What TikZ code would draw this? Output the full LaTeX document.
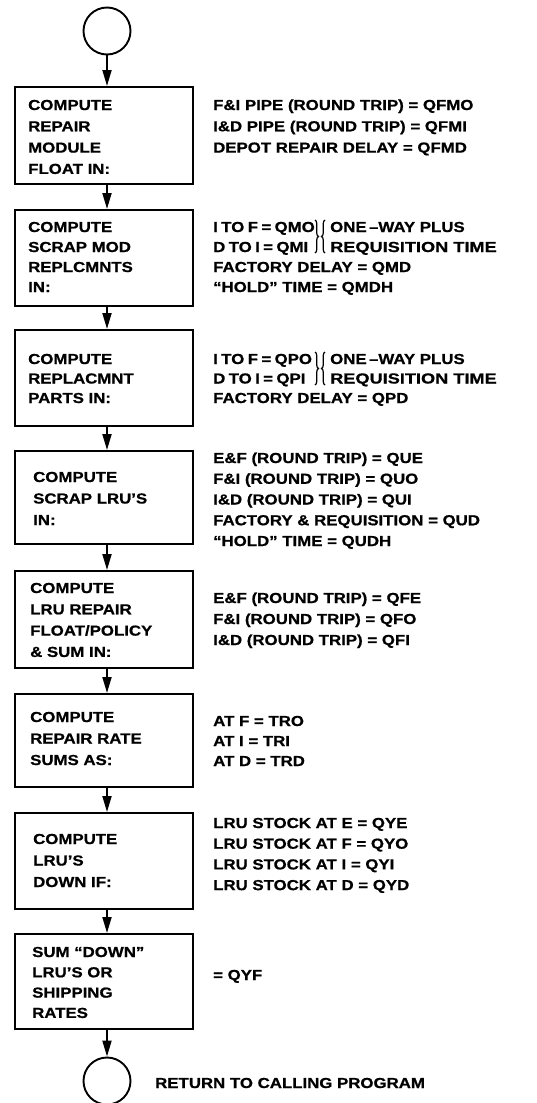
\documentclass[tikz,border=0pt]{standalone}
\usepackage{fontspec}
\usetikzlibrary{arrows.meta,decorations.pathreplacing}
\newfontfamily\lf{Liberation Sans}[FakeStretch=1.16, BoldFeatures={FakeBold=0.8}]
\tikzset{
  box/.style={draw, line width=2.3pt, rectangle, minimum width=178pt, anchor=north west, inner sep=0pt},
  term/.style={draw, circle, line width=1.9pt, minimum size=47pt, inner sep=0pt},
  arr/.style={line width=1.9pt, -{Triangle[length=16pt,width=9pt]}},
  txt/.style={anchor=base west, inner sep=0pt, font=\lf\bfseries\fontsize{14.5}{21}\selectfont},
  brc/.style={decorate, decoration={brace, amplitude=3.5pt}, line width=1.2pt}
}
\newcommand\lines[2]{\parbox[t]{320pt}{\fontsize{14.5}{#1}\selectfont\raggedright #2}}
\newcommand\tight[1]{{\spaceskip=3.4pt plus 0pt minus 0pt #1}}
\newcommand\wide[1]{\scalebox{1.08}[1]{#1}}
\begin{document}
\begin{tikzpicture}[x=1pt,y=-1pt]
\useasboundingbox (0,0) rectangle (537,1103);
% terminals
\node[term] (start) at (107,31) {};
\node[term] (stop) at (107,1081) {};
% boxes
\node[box, minimum height=97pt] (b1) at (14,86) {};
\node[box, minimum height=96pt] (b2) at (14,209) {};
\node[box, minimum height=96pt] (b3) at (14,329) {};
\node[box, minimum height=93pt] (b4) at (14,450) {};
\node[box, minimum height=97pt] (b5) at (14,570) {};
\node[box, minimum height=93pt] (b6) at (14,693) {};
\node[box, minimum height=96pt] (b7) at (14,812) {};
\node[box, minimum height=95pt] (b8) at (14,933) {};
% connectors
\draw[arr] (start.south) -- (b1.north -| start);
\draw[arr] (b1.south -| start) -- (b2.north -| start);
\draw[arr] (b2.south -| start) -- (b3.north -| start);
\draw[arr] (b3.south -| start) -- (b4.north -| start);
\draw[arr] (b4.south -| start) -- (b5.north -| start);
\draw[arr] (b5.south -| start) -- (b6.north -| start);
\draw[arr] (b6.south -| start) -- (b7.north -| start);
\draw[arr] (b7.south -| start) -- (b8.north -| start);
\draw[arr] (b8.south -| start) -- (stop.north);
% box texts
\node[txt] (t1) at (28,110) {\lines{21.3}{COMPUTE\\REPAIR\\MODULE\\FLOAT IN:}};
\node[txt] (t2) at (28,232) {\lines{20}{COMPUTE\\SCRAP MOD\\REPLCMNTS\\IN:}};
\node[txt] (t3) at (28,364) {\lines{19.5}{COMPUTE\\REPLACMNT\\PARTS IN:}};
\node[txt] (t4) at (33,482) {\lines{21.5}{COMPUTE\\SCRAP LRU’S\\IN:}};
\node[txt] (t5) at (30,593) {\lines{21.3}{COMPUTE\\LRU REPAIR\\FLOAT/POLICY\\\& SUM IN:}};
\node[txt] (t6) at (30,722) {\lines{21.5}{COMPUTE\\REPAIR RATE\\SUMS AS:}};
\node[txt] (t7) at (33,844) {\lines{21.5}{COMPUTE\\LRU’S\\DOWN IF:}};
\node[txt] (t8) at (32,957) {\lines{20.3}{SUM “DOWN”\\LRU’S OR\\SHIPPING\\RATES}};
% right-hand texts
\node[txt] (r1) at (213,110) {\lines{21.3}{F\&I PIPE (ROUND TRIP) = QFMO\\I\&D PIPE (ROUND TRIP) = QFMI\\DEPOT REPAIR DELAY = QFMD}};
\node[txt] (r2a) at (213,232) {\lines{20}{\tight{I TO F = QMO}\\\tight{D TO I = QMI}}};
\node[txt] (r2b) at (330,232) {\lines{20}{ONE\,–WAY PLUS\\\wide{REQUISITION TIME}}};
\node[txt] (r2c) at (213,272) {\lines{20}{FACTORY DELAY = QMD\\“HOLD” TIME = QMDH}};
\draw[brc] (315,220) -- (315,253);
\draw[brc] (325,253) -- (325,220);
\node[txt] (r3a) at (213,364) {\lines{19.5}{\tight{I TO F = QPO}\\\tight{D TO I = QPI}}};
\node[txt] (r3b) at (330,364) {\lines{19.5}{ONE\,–WAY PLUS\\\wide{REQUISITION TIME}}};
\node[txt] (r3c) at (213,403) {FACTORY DELAY = QPD};
\draw[brc] (315,352) -- (315,385);
\draw[brc] (325,385) -- (325,352);
\node[txt] (r4) at (213,463) {\lines{20.75}{E\&F (ROUND TRIP) = QUE\\F\&I (ROUND TRIP) = QUO\\I\&D (ROUND TRIP) = QUI\\FACTORY \& REQUISITION = QUD\\“HOLD” TIME = QUDH}};
\node[txt] (r5) at (213,603) {\lines{21}{E\&F (ROUND TRIP) = QFE\\F\&I (ROUND TRIP) = QFO\\I\&D (ROUND TRIP) = QFI}};
\node[txt] (r6) at (213,726) {\lines{20}{AT F = TRO\\AT I = TRI\\AT D = TRD}};
\node[txt] (r7) at (213,828) {\lines{20.7}{LRU STOCK AT E = QYE\\LRU STOCK AT F = QYO\\LRU STOCK AT I = QYI\\LRU STOCK AT D = QYD}};
\node[txt] (r8) at (213,980) {= QYF};
\node[txt] (ret) at (155,1088) {RETURN TO CALLING PROGRAM};
\end{tikzpicture}
\end{document}
